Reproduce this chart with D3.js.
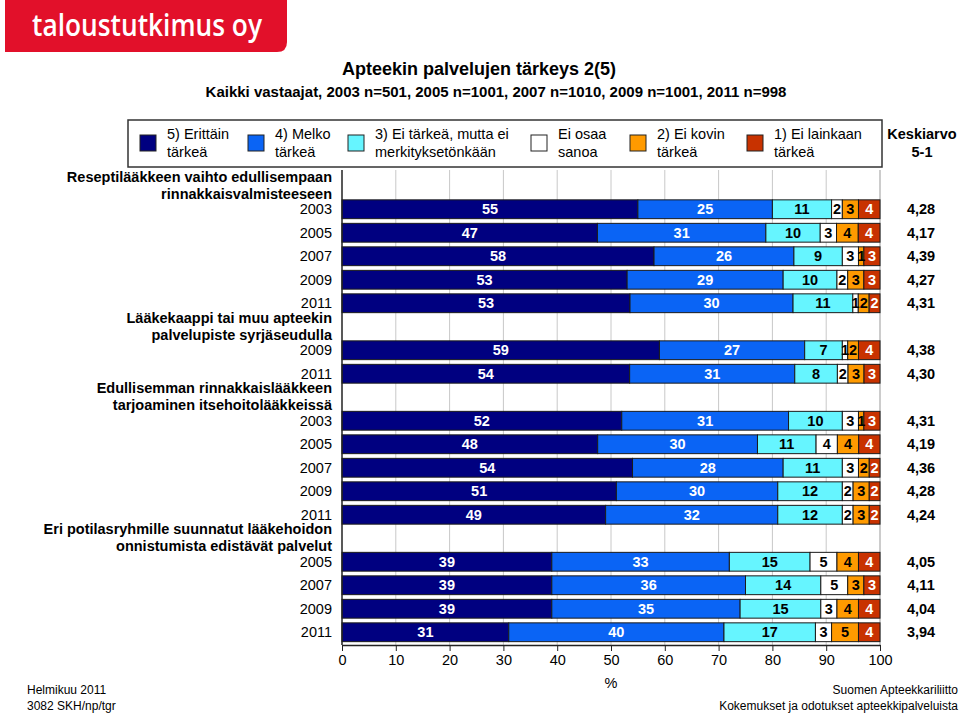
<!DOCTYPE html>
<html><head><meta charset="utf-8">
<script src="https://cdn.jsdelivr.net/npm/d3@7"></script>
<style>body{margin:0;background:#fff}svg{display:block;font-family:"Liberation Sans",Arial,sans-serif}</style>
</head><body><svg id="c" width="960" height="714"></svg>
<script>
// ---- data ----
const seriesKeys = ["s5","s4","s3","s0","s2","s1"];
const seriesLabels = [["5) Erittäin","tärkeä"],["4) Melko","tärkeä"],["3) Ei tärkeä, mutta ei","merkityksetönkään"],["Ei osaa","sanoa"],["2) Ei kovin","tärkeä"],["1) Ei lainkaan","tärkeä"]];
const seriesColors = ["#000080","#0A64F5","#66F5FF","#FFFFFF","#FF9A00","#C83200"];
const labelColors = ["#fff","#fff","#000","#000","#000","#fff"];
const groups = [
  ["Reseptilääkkeen vaihto edullisempaan","rinnakkaisvalmisteeseen"],
  ["Lääkekaappi tai muu apteekin","palvelupiste syrjäseudulla"],
  ["Edullisemman rinnakkaislääkkeen","tarjoaminen itsehoitolääkkeissä"],
  ["Eri potilasryhmille suunnatut lääkehoidon","onnistumista edistävät palvelut"]
];
const rowGroup = [0,0,0,0,0,1,1,2,2,2,2,2,3,3,3,3];
const rowYear = ["2003","2005","2007","2009","2011","2009","2011","2003","2005","2007","2009","2011","2005","2007","2009","2011"];
const s5 = [55,47,58,53,53,59,54,52,48,54,51,49,39,39,39,31];
const s4 = [25,31,26,29,30,27,31,31,30,28,30,32,33,36,35,40];
const s3 = [11,10,9,10,11,7,8,10,11,11,12,12,15,14,15,17];
const s0 = [2,3,3,2,1,1,2,3,4,3,2,2,5,5,3,3];
const s2 = [3,4,1,3,2,2,3,1,4,2,3,3,4,3,4,5];
const s1 = [4,4,3,3,2,4,3,3,4,2,2,2,4,3,4,4];
const means = ["4,28","4,17","4,39","4,27","4,31","4,38","4,30","4,31","4,19","4,36","4,28","4,24","4,05","4,11","4,04","3,94"];
const xTicks = [0,10,20,30,40,50,60,70,80,90,100];
const title = "Apteekin palvelujen tärkeys 2(5)";
const subtitle = "Kaikki vastaajat, 2003 n=501, 2005 n=1001, 2007 n=1010, 2009 n=1001, 2011 n=998";

// ---- build ----
const svg = d3.select("#c");
const FONT = "14.5px";

const slots = [];
rowGroup.forEach((g,i)=>{ if(i===0 || rowGroup[i-1]!==g) slots.push("g"+g); slots.push("r"+i); });

const x = d3.scaleLinear().domain([0,100]).range([342,880]);
const y = d3.scaleBand().domain(slots).range([174,644]).paddingInner(0.2).paddingOuter(0.1);

// logo
const logo = svg.append("g");
logo.append("path").attr("d","M5,0 H287 V42 Q287,52 277,52 H5 Z").attr("fill","#E2102A");
logo.append("text").attr("x",32).attr("y",36).attr("fill","#fff")
  .attr("font-family","'Open Sans',sans-serif").attr("font-weight",600).attr("font-size","31px")
  .attr("textLength",230).attr("lengthAdjust","spacingAndGlyphs").text("taloustutkimus oy");

// titles
svg.append("text").attr("x",479).attr("y",75).attr("text-anchor","middle").attr("font-weight","bold").attr("font-size","18px").text(title);
svg.append("text").attr("x",496).attr("y",97).attr("text-anchor","middle").attr("font-weight","bold").attr("font-size","15px").text(subtitle);

// legend
svg.append("rect").attr("x",128).attr("y",120).attr("width",754).attr("height",47).attr("fill","none").attr("stroke","#333").attr("stroke-width",1.5);
const legX = [140,248,348,531,630,747];
const lg = svg.append("g").selectAll("g").data(seriesLabels).join("g").attr("transform",(d,i)=>`translate(${legX[i]},0)`);
lg.append("rect").attr("x",0).attr("y",135).attr("width",16).attr("height",16).attr("fill",(d,i)=>seriesColors[i]).attr("stroke","#222").attr("stroke-width",1);
lg.append("text").attr("x",27).attr("y",139).attr("font-size",FONT).text(d=>d[0]);
lg.append("text").attr("x",27).attr("y",157).attr("font-size",FONT).text(d=>d[1]);
svg.append("text").attr("x",922).attr("y",139).attr("text-anchor","middle").attr("font-weight","bold").attr("font-size",FONT).text("Keskiarvo");
svg.append("text").attr("x",922).attr("y",157).attr("text-anchor","middle").attr("font-weight","bold").attr("font-size",FONT).text("5-1");

// gridlines
const plotTop = 170, plotBot = 645;
svg.append("g").selectAll("line").data(xTicks.slice(1,-1)).join("line")
  .attr("x1",d=>x(d)).attr("x2",d=>x(d)).attr("y1",plotTop).attr("y2",plotBot).attr("stroke","#c8c8c8").attr("stroke-width",1);
svg.append("line").attr("x1",x(100)).attr("x2",x(100)).attr("y1",plotTop).attr("y2",plotBot).attr("stroke","#999");

// data rows
const cols = {s5,s4,s3,s0,s2,s1};
const rows = rowYear.map((yr,i)=>{
  const r = {id:"r"+i, year:yr, mean:means[i], raw:{}};
  const tot = seriesKeys.reduce((a,k)=>a+cols[k][i],0);
  seriesKeys.forEach(k=>{ r[k] = cols[k][i]/tot*100; r.raw[k]=cols[k][i]; });
  return r;
});
const stacked = d3.stack().keys(seriesKeys)(rows);

const bh = y.bandwidth();
const barG = svg.append("g");
stacked.forEach((layer,si)=>{
  barG.append("g").selectAll("rect").data(layer).join("rect")
    .attr("x",d=>x(d[0])).attr("width",d=>x(d[1])-x(d[0]))
    .attr("y",d=>y(d.data.id)).attr("height",bh)
    .attr("fill",seriesColors[si]).attr("stroke","#1a1a1a").attr("stroke-width",1);
});
stacked.forEach((layer,si)=>{
  barG.append("g").selectAll("text").data(layer).join("text")
    .attr("x",d=>x((d[0]+d[1])/2)).attr("y",d=>y(d.data.id)+bh/2+5)
    .attr("text-anchor","middle").attr("font-weight","bold").attr("font-size",FONT)
    .attr("fill",labelColors[si]).text(d=>d.data.raw[layer.key]);
});

svg.append("line").attr("x1",x(0)).attr("x2",x(0)).attr("y1",plotTop).attr("y2",plotBot).attr("stroke","#222").attr("stroke-width",1.5);

// year labels
svg.append("g").selectAll("text").data(rows).join("text")
  .attr("x",332).attr("y",d=>y(d.id)+bh/2+5).attr("text-anchor","end").attr("font-size",FONT).text(d=>d.year);
// group labels
const gl = svg.append("g").selectAll("g").data(groups).join("g");
gl.append("text").attr("x",332).attr("y",(d,i)=>y("g"+i)+bh/2-4).attr("text-anchor","end").attr("font-weight","bold").attr("font-size",FONT).text(d=>d[0]);
gl.append("text").attr("x",332).attr("y",(d,i)=>y("g"+i)+bh/2+13).attr("text-anchor","end").attr("font-weight","bold").attr("font-size",FONT).text(d=>d[1]);

// means
svg.append("g").selectAll("text").data(rows).join("text")
  .attr("x",921).attr("y",d=>y(d.id)+bh/2+5).attr("text-anchor","middle").attr("font-weight","bold").attr("font-size",FONT).text(d=>d.mean);

// x axis
const ax = svg.append("g").attr("transform",`translate(0,${plotBot})`)
  .call(d3.axisBottom(x).tickValues(xTicks).tickSize(6).tickPadding(4).tickSizeOuter(0));
ax.select(".domain").attr("stroke","#222").attr("stroke-width",1.5);
ax.selectAll(".tick line").attr("stroke","#222");
ax.selectAll("text").attr("font-size",FONT).attr("font-family","'Liberation Sans',Arial,sans-serif").attr("fill","#000");
svg.append("text").attr("x",x(50)).attr("y",688).attr("text-anchor","middle").attr("font-size",FONT).text("%");

// footer
svg.append("text").attr("x",27).attr("y",694).attr("font-size","12px").text("Helmikuu 2011");
svg.append("text").attr("x",27).attr("y",710).attr("font-size","12px").text("3082 SKH/np/tgr");
svg.append("text").attr("x",958).attr("y",694).attr("text-anchor","end").attr("font-size","12px").text("Suomen Apteekkariliitto");
svg.append("text").attr("x",958).attr("y",710).attr("text-anchor","end").attr("font-size","12px").text("Kokemukset ja odotukset apteekkipalveluista");
</script></body></html>
